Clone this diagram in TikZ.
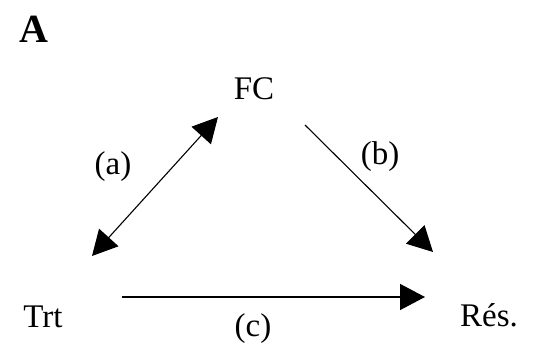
\documentclass[tikz,border=0pt]{standalone}
\usepackage{fontspec}
\setmainfont{Liberation Serif}
\usetikzlibrary{arrows.meta}
\begin{document}
\begin{tikzpicture}[x=1pt,y=-1pt,
  lbl/.style={anchor=base,inner sep=0pt,font=\fontsize{33}{36}\selectfont},
  con/.style={line width=1.1pt,-{Triangle[length=25pt,width=26pt]}},
  dcon/.style={line width=1.1pt,{Triangle[length=25pt,width=26pt]}-{Triangle[length=25pt,width=26pt]}}]
\useasboundingbox (0,0) rectangle (539,347);
\node[lbl,font=\fontsize{40}{44}\bfseries\selectfont] (A) at (34,43) {A};
\node[lbl] (FC) at (254,100) {FC};
\node[lbl] (Trt) at (43,328) {Trt};
\node[lbl] (Res) at (489,327) {Rés.};
\node[lbl] (la) at (113,175) {(a)};
\node[lbl] (lb) at (380,165) {(b)};
\node[lbl] (lc) at (253,337) {(c)};
\coordinate (a1) at (92,256);
\coordinate (a2) at (218,117);
\coordinate (b1) at (305,125);
\coordinate (b2) at (433,252);
\coordinate (c1) at (122,297);
\coordinate (c2) at (425,297);
\draw[dcon] (a1) -- (a2);
\draw[con] (b1) -- (b2);
\draw[con,line width=1.5pt] (c1) -- (c2);
\end{tikzpicture}
\end{document}
